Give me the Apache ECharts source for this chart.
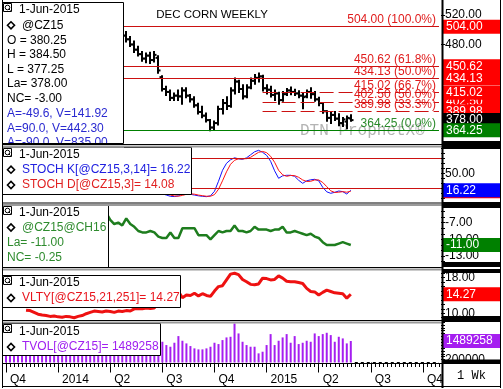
<!DOCTYPE html>
<html><head><meta charset="utf-8">
<script src="https://cdn.jsdelivr.net/npm/echarts@6/dist/echarts.min.js"></script>
<style>html,body{margin:0;padding:0;background:#fff}#c{width:503px;height:389px}</style>
</head><body><div id="c"></div>
<script>
// ---------------- DATA ----------------
const firstWeek = '2013-10-07';
const numWeeks = 109;
const quarterStarts = ['2013-10-07','2014-01-06','2014-04-07','2014-07-07','2014-10-06','2015-01-05','2015-04-06','2015-07-06','2015-10-05'];
const quarterLabels = ['Q4','2014','Q2','Q3','Q4','2015','Q2','Q3','Q4'];

const priceStart = '2014-04-28';
const priceOpen  = [500,492,487,480,473,467,461,465,459,462,436,420,416,408,411,410,418,411,406,398,389,384,378,368,374,393,401,397,418,430,420,410,422,431,435,437,421,419,412,414,405,413,418,416,414,411,410,416,413,406,401,390,381,385,380,374,376,380.25];
const priceHigh  = [504,497,490,484,477,470,468,469,470,464,437,423,418,414,418,421,421,412,409,400,396,387,378,376,396,405,409,421,434,431,425,425,434,439,440.75,438,425,423,418,415,416,420,422,419,417,414,418,421,416,408,401,390,388,389,386,381,383,384.5];
const priceLow   = [488,484,478,470,465,458,456,455,457,442,418,412,405,405,405,400,409,403,396,387,382,376,364.25,366,372,387,393,396,414,416,407,409,421,427,430,418,414,410,405,400,404,412,413,412,409,394,409,408,404,398,388,377,374,378,371,370,367,377.25];
const priceClose = [492,487,480,473,467,461,465,459,466,445,420,416,408,411,410,418,411,406,398,389,384,378,368,374,393,401,397,418,430,420,410,422,431,435,437,421,419,412,414,405,413,418,416,414,411,409,416,413,406,401,390,381,385,380,374,379,381,378];

const fibAStart = '2014-04-28';
const fibALevels = [504.00, 450.62, 434.13, 364.25];
const fibAPct    = ['100.0%','61.8%','50.0%','0.0%'];
const fibBStart = '2014-12-29';
const fibBLevels = [415.02, 402.50, 389.98];
const fibBPct    = ['66.7%','50.0%','33.3%'];
const lastPrice = 378.00;

const stochStart = '2014-06-30';
const stochK = [14,9,6.5,4,3.5,5,9,10,8,6.5,5,4,3.3,5,14,34,56,70,77,81,79,78,81,87,93,96,92,86,74,55,40,45,46,46,44,36,30,35,37,38,35,22,13,10,12,14.6,13.3,8.6,16.22];
const stochD = [18,13,9,6.5,4.7,4.2,5.8,8,9,8.2,6.5,5.2,4.1,4.1,7.4,18,35,53,68,76,79,79,79.3,82,87,92,93.7,91.3,84,72,56,47,44,45.7,45.3,42,36.7,33.7,34,36.7,36.7,31.7,23.3,15,11.7,12.2,13.3,12.2,14.08];
const stochLevels = [80, 20];

const spreadStart = '2014-03-10';
const spread = [-4.5,-4.75,-5.0,-5.25,-6.5,-7.25,-7.0,-7.5,-6.25,-7.25,-7.75,-8.5,-8.75,-8.75,-8.5,-8.75,-9.5,-9.75,-9.75,-8.75,-9.75,-9.75,-8.0,-8.0,-8.0,-8.0,-9.25,-9.25,-9.25,-10.0,-9.25,-8.5,-8.75,-8.5,-8.5,-7.5,-8.5,-8.5,-8.75,-8.5,-7.75,-8.25,-8.25,-8.25,-8.5,-8.25,-8.25,-7.75,-8.75,-8.75,-8.5,-8.75,-9.0,-9.25,-9.0,-9.5,-9.75,-10.5,-11.0,-11.0,-11.0,-10.75,-10.5,-10.75,-11.0];

const vltyStart = '2013-11-11';
const vlty = [10.7,10.6,10.2,9.8,9.6,9.5,9.3,9.4,9.2,9.1,9.3,9.2,9.0,9.3,9.5,9.9,10.2,10.5,10.4,10.3,10.5,10.4,10.2,10.5,10.4,10.6,10.5,11.0,11.1,11.0,11.2,11.1,11.2,12.5,13.6,14.2,14.6,14.8,14.9,13.5,14.1,14.0,14.5,13.9,14.4,14.0,13.8,15.0,16.0,16.2,17.5,18.8,19.0,18.7,17.6,17.1,16.5,16.4,16.6,17.9,17.8,17.5,17.6,18.4,17.9,17.2,17.1,17.1,16.9,16.7,15.6,14.9,14.8,14.1,14.7,15.2,14.9,14.6,14.5,14.4,13.4,14.27];

const volStart = '2013-10-07';
const volume = [1050000,1180000,980000,1220000,1350000,1100000,950000,1020000,1280000,880000,720000,800000,1150000,1300000,1120000,1050000,980000,1200000,1420000,1250000,1080000,1320000,1150000,1380000,1600000,1450000,1700000,1520000,1360000,1480000,1290000,1330000,1580000,1410000,1270000,1620000,1500000,1360000,1720000,
1437000,1208000,1092000,1368000,1829000,1506000,1323000,1139000,978000,909000,909000,978000,1092000,1368000,1277000,1553000,1737000,1782000,2700000,2013000,1437000,1208000,1092000,1092000,633000,747000,1208000,1967000,1208000,1506000,1737000,1967000,1368000,1829000,1277000,1368000,1506000,1437000,2013000,1829000,1967000,2058000,1898000,1437000,1782000,1668000,1323000,1489258];

// ---------------- BUILD ----------------
const FONT = 'Arial, "Liberation Sans", sans-serif';
const weeks = [];
{ const t0 = Date.parse(firstWeek + 'T00:00:00Z');
  for (let i = 0; i < numWeeks; i++) weeks.push(new Date(t0 + i * 7 * 86400000).toISOString().slice(0, 10)); }
const wi = d => weeks.indexOf(d);
function pad(start, arr) { const s = wi(start); const out = new Array(numWeeks).fill(null); arr.forEach((v, k) => { out[s + k] = v; }); return out; }
const qLabel = {}; quarterStarts.forEach((d, j) => { qLabel[wi(d)] = quarterLabels[j]; });

const ps = wi(priceStart);
const ohlc = priceOpen.map((o, k) => [ps + k, o, priceHigh[k], priceLow[k], priceClose[k]]);

const L = 4, W = 437;
const grids = [
  {left: L, width: W, top: 2, height: 142},
  {left: L, width: W, top: 148, height: 54},
  {left: L, width: W, top: 206, height: 61},
  {left: L, width: W, top: 270, height: 50},
  {left: L, width: W, top: 322, height: 40.5}
];
function hiddenX(g) { return {type: 'category', gridIndex: g, data: weeks, boundaryGap: true, show: false}; }
function yAx(g, min, max, labels, ticks, fmt) {
  return {type: 'value', gridIndex: g, position: 'right', min, max,
    splitLine: {show: false}, axisLine: {show: false},
    axisTick: {show: true, length: 4, customValues: ticks, lineStyle: {color: '#000'}},
    axisLabel: {customValues: labels, formatter: fmt, color: '#000', fontSize: 12, fontFamily: FONT, margin: 4}};
}
const f2 = v => Number(v).toFixed(2);
const rng = (a, b, s) => { const r = []; for (let v = a; v <= b + 1e-9; v += s) r.push(Math.round(v * 1000) / 1000); return r; };

function boxLabel(v, bg, txt) {
  return {yAxis: v, lineStyle: {color: 'rgba(0,0,0,0)', opacity: 1, width: 1},
    label: {show: true, position: 'end', distance: 2, formatter: txt, color: '#fff', backgroundColor: bg, opacity: 1,
      padding: [1, 3, 0, 3], width: 51, lineHeight: 13, fontSize: 12, fontFamily: FONT, align: 'left'}};
}
function fibLine(start, v, pct, color, dashed) {
  return [
    {coord: [start, v], lineStyle: {color: color, width: 1, type: dashed ? [14, 5] : 'solid'},
      label: {show: true, position: 'insideEndTop', distance: [3, 1], formatter: f2(v) + ' (' + pct + ')',
        color: color === '#008000' ? '#2a8a2a' : '#e01b1b', fontSize: 12, fontFamily: FONT}},
    {coord: [weeks[numWeeks - 1], v]}
  ];
}
const priceMarks = [];
fibALevels.forEach((v, k) => priceMarks.push(fibLine(fibAStart, v, fibAPct[k], v === 364.25 ? '#008000' : '#cc1111', false)));
fibBLevels.forEach((v, k) => priceMarks.push(fibLine(fibBStart, v, fibBPct[k], '#cc1111', true)));
const boxOrder = [504.00, 450.62, 434.13, 402.50, 415.02, 389.98, lastPrice, 364.25];
const priceBoxes = boxOrder.map(v => boxLabel(v, v === lastPrice ? '#000' : (v === 364.25 ? '#008000' : '#ff0000'), f2(v)));

// ---------------- GRAPHICS (frames, legends) ----------------
const G = [];
function rect(x, y, w, h, fill, stroke, lw, z) { G.push({type: 'rect', silent: true, z: z || 50, shape: {x, y, width: w, height: h}, style: {fill: fill || 'none', stroke: stroke || null, lineWidth: lw || 1}}); }
function line(x1, y1, x2, y2, stroke, lw, z) { G.push({type: 'line', silent: true, z: z || 50, shape: {x1, y1, x2, y2}, style: {stroke, lineWidth: lw || 1}}); }
function text(x, y, t, color, font, align, z) { G.push({type: 'text', silent: true, z: z || 51, x, y, style: {text: t, fill: color || '#000', font: font || ('12px ' + FONT), textAlign: align || 'left', textVerticalAlign: 'middle', align: align || 'left', verticalAlign: 'middle'}}); }
function diamond(cx, cy) { G.push({type: 'polygon', silent: true, z: 51, shape: {points: [[cx - 3.5, cy], [cx, cy - 3.5], [cx + 3.5, cy], [cx, cy + 3.5]]}, style: {fill: '#fff', stroke: '#000', lineWidth: 1.6}}); }
function icon(x, y) {
  rect(x + 0.5, y + 0.5, 8, 8, '#fff', '#000', 1, 51);
  G.push({type: 'circle', silent: true, z: 52, shape: {cx: x + 4.5, cy: y + 4.5, r: 2.3}, style: {fill: 'none', stroke: '#000', lineWidth: 1}});
  line(x + 5.8, y + 5.8, x + 7.5, y + 7.5, '#000', 1, 52);
}
function legendBox(x, y, w, h, lines) {
  rect(x + 0.5, y + 0.5, w, h, '#fff', '#000', 1, 50);
  icon(x + 1, y + 1);
  lines.forEach(l => {
    if (l.d) diamond(11, l.y);
    text(l.x, l.y, l.t, l.c);
  });
}
// watermark and title
text(300, 131, 'DTN ProphetX\u00AE', '#b4b4b4', '16px "Liberation Mono", "DejaVu Sans Mono", monospace', 'left', 1);
text(212, 15, 'DEC CORN WEEKLY', '#000', '11.5px ' + FONT, 'center', 1);

legendBox(2, 2, 121, 141, [
  {x: 19, y: 9.5, t: '1-Jun-2015'},
  {x: 22, y: 25.3, t: '@CZ15', d: 1},
  {x: 7, y: 40.5, t: 'O = 380.25'},
  {x: 7, y: 55, t: 'H = 384.50'},
  {x: 7, y: 69.5, t: 'L = 377.25'},
  {x: 7, y: 84, t: 'La= 378.00'},
  {x: 7, y: 98.8, t: 'NC= -3.00'},
  {x: 7, y: 113.5, t: 'A=-49.6, V=141.92', c: '#2a2ad0'},
  {x: 7, y: 128.3, t: 'A=90.0, V=442.30', c: '#2a2ad0'},
  {x: 7, y: 143, t: 'A=-90.0, V=835.00', c: '#2a2ad0'}
]);
rect(2, 143.6, 122, 4, '#fff', null, 1, 53);
line(2, 143.5, 123.5, 143.5, '#000', 1, 53);

// panel separators (plot area)
[144.5, 203, 267.5, 320.5].forEach(y => { line(2, y, 442, y, '#000', 1, 54); line(2, y + 2, 442, y + 2, '#9a9a9a', 2, 54); });

legendBox(2, 147, 189, 47, [
  {x: 19, y: 154.5, t: '1-Jun-2015'},
  {x: 22, y: 169.7, t: 'STOCH K[@CZ15,3,14]= 16.22', c: '#2020e0', d: 1},
  {x: 22, y: 185, t: 'STOCH D[@CZ15,3]= 14.08', c: '#e02020', d: 1}
]);
legendBox(2, 205, 106, 62, [
  {x: 19, y: 212.3, t: '1-Jun-2015'},
  {x: 22, y: 227.5, t: '@CZ15@CH16', c: '#2e8b2e', d: 1},
  {x: 7, y: 242.8, t: 'La= -11.00', c: '#2e8b2e'},
  {x: 7, y: 257.5, t: 'NC= -0.25', c: '#2e8b2e'}
]);
legendBox(2, 275, 178, 32, [
  {x: 19, y: 282.8, t: '1-Jun-2015'},
  {x: 22, y: 298, t: 'VLTY[@CZ15,21,251]= 14.27', c: '#e8141c', d: 1}
]);
legendBox(2, 323, 158, 32, [
  {x: 19, y: 332, t: '1-Jun-2015'},
  {x: 22, y: 347, t: 'TVOL[@CZ15]= 1489258', c: '#a020f0', d: 1}
]);

// axis-area black bars
[[141, 8], [202, 6], [262, 5], [269, 4], [316, 6], [359.5, 4.5]].forEach(b => rect(443, b[0], 58, b[1], '#000', null, 1, 55));
// frame lines
line(442.5, 0, 442.5, 388, '#000', 2, 56);
line(500.5, 0, 500.5, 388, '#000', 1, 56);
line(2.5, 0, 2.5, 388, '#000', 1, 56);
line(2, 363.5, 442, 363.5, '#000', 1, 56);
line(2, 386.5, 501, 386.5, '#000', 1, 56);
rect(443, 364, 57, 22, '#fff', null, 1, 55);
text(471.5, 376, '1 Wk', '#000', '12px "Liberation Mono", "Courier New", monospace', 'center', 57);

// ---------------- OPTION ----------------
const noMarkAnim = {silent: true, symbol: ['none', 'none'], animation: false};
const option = {
  animation: false,
  backgroundColor: '#fff',
  grid: grids,
  xAxis: [hiddenX(0), hiddenX(1), hiddenX(2), hiddenX(3),
    {type: 'category', gridIndex: 4, data: weeks, boundaryGap: true, position: 'bottom', offset: 1.5,
      axisLine: {show: false},
      axisTick: {show: true, alignWithLabel: true, interval: (i) => (i in qLabel), length: 10, lineStyle: {color: '#000'}},
      axisLabel: {interval: (i) => (i in qLabel), formatter: (v, i) => qLabel[i] || '', align: 'left', padding: [0, 0, 0, 4], margin: 10, color: '#000', fontSize: 12, fontFamily: FONT}},
    {type: 'category', gridIndex: 4, data: weeks, boundaryGap: true, position: 'bottom', offset: 1.5,
      axisLine: {show: false}, axisLabel: {show: false},
      axisTick: {show: true, alignWithLabel: true, interval: 0, length: 3, lineStyle: {color: '#000'}}}
  ],
  yAxis: [
    yAx(0, 345.77, 537.32, [480, 520], [480, 520], f2),
    yAx(1, -7.4, 100.6, [50], rng(0, 100, 10), f2),
    yAx(2, -14.95, -4.02, [-7, -10, -13], rng(-14, -5, 1), f2),
    yAx(3, 8.49, 19.73, [18, 10], rng(9, 19, 1), f2),
    yAx(4, 0, 2805000, [200000], rng(200000, 2800000, 200000), v => String(v))
  ],
  series: [
    {type: 'custom', xAxisIndex: 0, yAxisIndex: 0, data: ohlc, encode: {x: 0, y: [1, 2, 3, 4]}, clip: false, z: 3,
      renderItem: (params, api) => {
        const i = api.value(0);
        const pO = api.coord([i, api.value(1)]), pH = api.coord([i, api.value(2)]);
        const pL = api.coord([i, api.value(3)]), pC = api.coord([i, api.value(4)]);
        const x = Math.round(pH[0]);
        const st = {stroke: '#000', lineWidth: 2};
        return {type: 'group', children: [
          {type: 'line', shape: {x1: x, y1: pH[1] - 1, x2: x, y2: pL[1] + 1}, style: st},
          {type: 'line', shape: {x1: x - 2.5, y1: pO[1], x2: x, y2: pO[1]}, style: st},
          {type: 'line', shape: {x1: x, y1: pC[1], x2: x + 2.5, y2: pC[1]}, style: st}
        ]};
      },
      markLine: Object.assign({}, noMarkAnim, {data: priceMarks})
    },
    // invisible helper series that carries the right-hand value boxes of the price panel
    {type: 'line', xAxisIndex: 0, yAxisIndex: 0, data: [], z: 4,
      markLine: Object.assign({}, noMarkAnim, {data: priceBoxes})},
    {type: 'line', xAxisIndex: 1, yAxisIndex: 1, data: pad(stochStart, stochK), showSymbol: false, symbol: 'none',
      lineStyle: {color: '#1010ff', width: 1}, z: 3,
      markLine: Object.assign({}, noMarkAnim, {
        data: stochLevels.map(v => ({yAxis: v, lineStyle: {color: '#cc1111', width: 1, type: 'solid'}, label: {show: false}}))})},
    {type: 'line', xAxisIndex: 1, yAxisIndex: 1, data: pad(stochStart, stochD), showSymbol: false, symbol: 'none',
      lineStyle: {color: '#ff1010', width: 1}, z: 3,
      markLine: Object.assign({}, noMarkAnim, {
        data: [boxLabel(stochD[stochD.length - 1], '#ff0000', f2(stochD[stochD.length - 1])),
               boxLabel(stochK[stochK.length - 1], '#0000ff', f2(stochK[stochK.length - 1]))]})},
    {type: 'line', xAxisIndex: 2, yAxisIndex: 2, data: pad(spreadStart, spread), showSymbol: false, symbol: 'none',
      lineStyle: {color: '#1e7d1e', width: 2.5}, z: 3,
      markLine: Object.assign({}, noMarkAnim, {
        data: [boxLabel(spread[spread.length - 1], '#008000', f2(spread[spread.length - 1]))]})},
    {type: 'line', xAxisIndex: 3, yAxisIndex: 3, data: pad(vltyStart, vlty), showSymbol: false, symbol: 'none',
      lineStyle: {color: '#ee1111', width: 3}, z: 3,
      markLine: Object.assign({}, noMarkAnim, {
        data: [boxLabel(vlty[vlty.length - 1], '#ff0000', f2(vlty[vlty.length - 1]))]})},
    {type: 'bar', xAxisIndex: 4, yAxisIndex: 4, data: pad(volStart, volume), barWidth: 2,
      itemStyle: {color: '#a51ef0'}, z: 3,
      markLine: Object.assign({}, noMarkAnim, {
        data: [
          [{coord: [weeks[wi(volStart) + volume.length], 0], lineStyle: {color: '#000', width: 1, type: [3, 3]}, label: {show: false}},
           {coord: [weeks[numWeeks - 1], 0]}],
          boxLabel(volume[volume.length - 1], '#a51ef0', String(volume[volume.length - 1]))
        ]})}
  ],
  graphic: {elements: G}
};
const chart = echarts.init(document.getElementById('c'), null, {renderer: 'canvas'});
chart.setOption(option);
</script>
</body></html>
